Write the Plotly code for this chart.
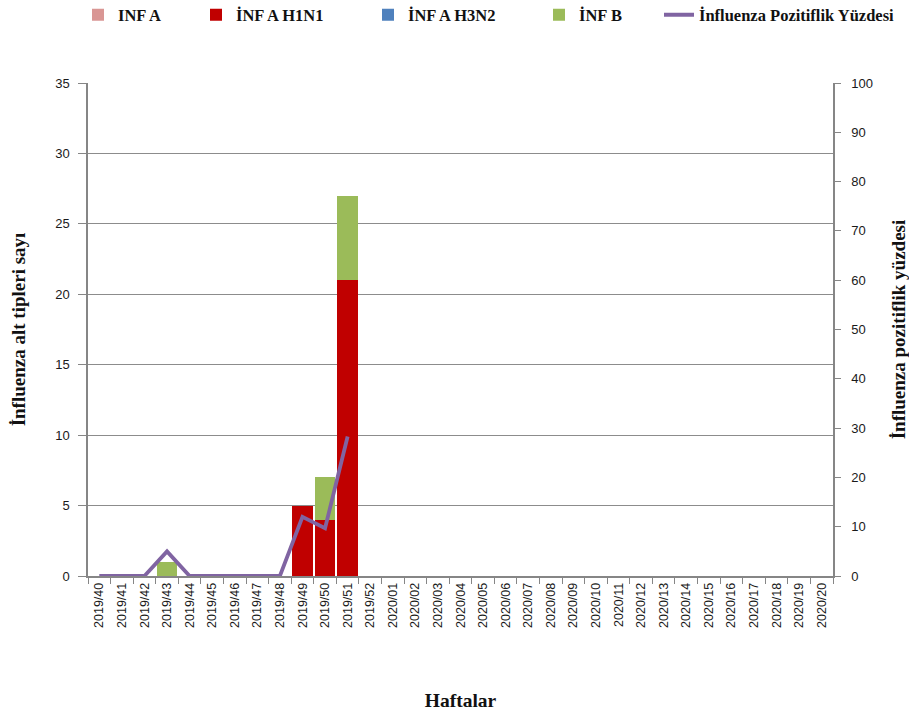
import plotly.graph_objects as go

# Surveillance weeks 2019/40 .. 2020/20
weeks = [f"2019/{w}" for w in range(40, 53)] + [f"2020/{w:02d}" for w in range(1, 21)]

inf_a = [0] * len(weeks)
inf_a_h1n1 = [0, 0, 0, 0, 0, 0, 0, 0, 0, 5, 4, 21] + [0] * 21
inf_a_h3n2 = [0] * len(weeks)
inf_b = [0, 0, 0, 1, 0, 0, 0, 0, 0, 0, 3, 6] + [0] * 21

# Positivity percentage (reported through 2019/51)
positivity_weeks = weeks[:12]
positivity = [0, 0, 0, 5, 0, 0, 0, 0, 0, 12, 9.7, 28.3]

serif = "Liberation Serif"
tick_font = dict(family="Liberation Sans", size=13, color="#1a1a1a")
axis_grey = "#868686"

fig = go.Figure()
fig.add_bar(x=weeks, y=inf_a, name="<b>INF A</b>", marker=dict(color="#D99694", line_width=0),
            legend="legend")
fig.add_bar(x=weeks, y=inf_a_h1n1, name="<b>İNF A H1N1</b>",
            marker=dict(color="#C00000", line_width=0), legend="legend2")
fig.add_bar(x=weeks, y=inf_a_h3n2, name="<b>İNF A H3N2</b>",
            marker=dict(color="#4F81BD", line_width=0), legend="legend3")
fig.add_bar(x=weeks, y=inf_b, name="<b>İNF B</b>", marker=dict(color="#9BBB59", line_width=0),
            legend="legend4")
fig.add_scatter(x=positivity_weeks, y=positivity, name="<b>İnfluenza Pozitiflik Yüzdesi</b>",
                mode="lines", line=dict(color="#8064A2", width=3.8), yaxis="y2", legend="legend5")


def legend_box(x_px):
    # one entry per legend box, laid out along the top of the page
    return dict(x=x_px / 909, xref="container", xanchor="left",
                y=1 - 15 / 717, yref="container", yanchor="middle",
                orientation="h", bgcolor="rgba(0,0,0,0)",
                font=dict(family=serif, size=16.5, color="#111"))


fig.update_layout(
    width=909, height=717,
    margin=dict(l=88, r=76, t=83, b=141, autoexpand=False),
    paper_bgcolor="white", plot_bgcolor="white",
    barmode="stack", bargap=0.1,
    showlegend=True,
    legend=legend_box(78),
    legend2=legend_box(196),
    legend3=legend_box(368),
    legend4=legend_box(539),
    legend5=legend_box(659),
    xaxis=dict(type="category", categoryorder="array", categoryarray=weeks,
               tickangle=-90, tickfont=dict(family="Liberation Sans", size=12.5, color="#1a1a1a"),
               ticks="outside", tickson="boundaries", ticklen=6, tickcolor=axis_grey,
               showline=True, linecolor=axis_grey, linewidth=1.5, showgrid=False,
               title=dict(text="<b>Haftalar</b>", font=dict(family=serif, size=19.5, color="#111"),
                          standoff=66)),
    yaxis=dict(range=[0, 35], dtick=5, tickfont=tick_font,
               ticks="outside", ticklen=8, tickcolor=axis_grey, ticklabelstandoff=6,
               showline=True, linecolor=axis_grey, linewidth=1.5,
               showgrid=True, gridcolor="#8c8c8c", gridwidth=1, zeroline=False,
               title=dict(text="<b>İnfluenza alt tipleri sayı</b>",
                          font=dict(family=serif, size=19, color="#111"), standoff=25)),
    yaxis2=dict(range=[0, 100], dtick=10, overlaying="y", side="right", tickfont=tick_font,
                ticks="outside", ticklen=6, tickcolor=axis_grey, ticklabelstandoff=8,
                showline=True, linecolor=axis_grey, linewidth=1.5, showgrid=False, zeroline=False,
                title=dict(text="<b>İnfluenza pozitiflik yüzdesi</b>",
                           font=dict(family=serif, size=19, color="#111"), standoff=22)),
)

fig.write_html("out.html")
